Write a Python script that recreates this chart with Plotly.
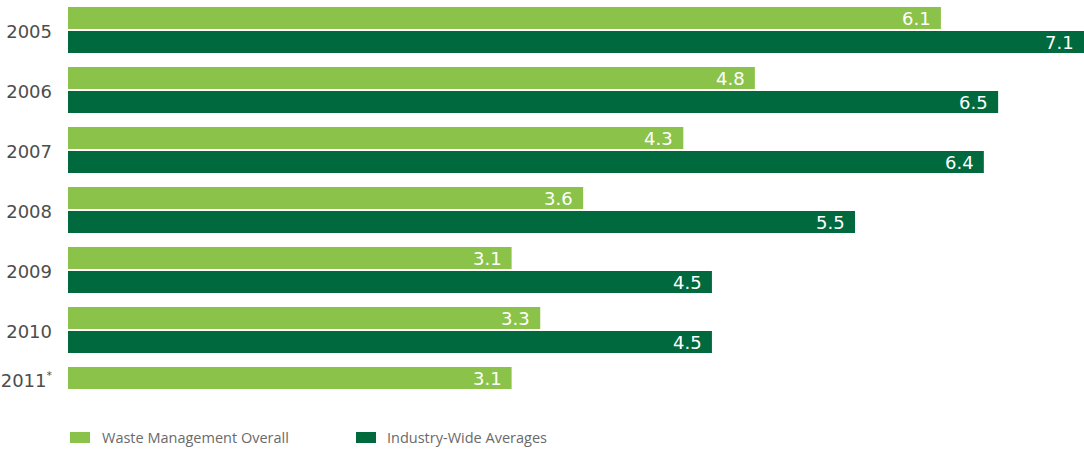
import plotly.graph_objects as go

years = ["2005", "2006", "2007", "2008", "2009", "2010", "2011"]
year_labels = ["2005", "2006", "2007", "2008", "2009", "2010",
               "2011<sup><span style='font-size:11px'>*</span></sup><br>&nbsp;"]
wm_overall = [6.1, 4.8, 4.3, 3.6, 3.1, 3.3, 3.1]
industry_avg = [7.1, 6.5, 6.4, 5.5, 4.5, 4.5, None]
series_names = ["Waste Management Overall", "Industry-Wide Averages"]

LIGHT = "#8BC34A"
DARK = "#00693D"

W, H = 1084, 451
ML, MR, MT, MB = 68, 0, 0, 31
PW, PH = W - ML - MR, H - MT - MB


def px_x(x):
    return (x - ML) / PW


def px_y(y):
    return (H - MB - y) / PH


fig = go.Figure()
fig.add_trace(go.Bar(y=years, x=wm_overall, orientation="h", name=series_names[0],
                     marker=dict(color=LIGHT, line=dict(width=0)), showlegend=False,
                     hoverinfo="x+y"))
fig.add_trace(go.Bar(y=years, x=industry_avg, orientation="h", name=series_names[1],
                     marker=dict(color=DARK, line=dict(width=0)), showlegend=False,
                     hoverinfo="x+y"))

annotations = []
for vals, shift in ((wm_overall, 12), (industry_avg, -12)):
    for idx, v in enumerate(vals):
        if v is None:
            continue
        annotations.append(dict(
            x=v, y=idx, xref="x", yref="y", text=f"{v:.1f}", showarrow=False,
            xanchor="right", yanchor="middle", xshift=-8, yshift=shift,
            font=dict(family="DejaVu Sans", size=18, color="white")))

# custom legend
shapes = []
legend_items = [(70, 100, LIGHT, series_names[0]), (356, 385, DARK, series_names[1])]
for sx, tx, col, name in legend_items:
    shapes.append(dict(type="rect", xref="paper", yref="paper",
                       x0=px_x(sx), x1=px_x(sx + 20), y0=px_y(443), y1=px_y(432),
                       fillcolor=col, line=dict(width=0)))
    annotations.append(dict(x=px_x(tx), y=px_y(437.5), xref="paper", yref="paper",
                            text=name, showarrow=False, xanchor="left", yanchor="middle",
                            font=dict(family="Open Sans", size=14.5, color="#6a6a6a")))

fig.update_layout(
    width=W, height=H,
    margin=dict(l=ML, r=MR, t=MT, b=MB, pad=0, autoexpand=False),
    paper_bgcolor="white", plot_bgcolor="white",
    barmode="group", bargap=0.2, bargroupgap=0.0833,
    showlegend=False,
    xaxis=dict(type="linear", range=[0, 7.1], autorange=False, visible=False,
               fixedrange=True, automargin=False),
    yaxis=dict(type="category", categoryorder="array", categoryarray=years,
               range=[6.5, -0.5], autorange=False, tickmode="array",
               tickvals=years, ticktext=year_labels, showgrid=False, zeroline=False,
               showline=False, ticks="", ticklabelstandoff=15, ticklabelshift=-2,
               automargin=False, fixedrange=True,
               tickfont=dict(family="DejaVu Sans", size=18, color="#4d4d4d")),
    annotations=annotations, shapes=shapes,
)

fig.write_html("out.html", config={"displayModeBar": False, "staticPlot": True},
               post_script="document.body.style.margin='0';document.body.style.overflow='hidden';")
